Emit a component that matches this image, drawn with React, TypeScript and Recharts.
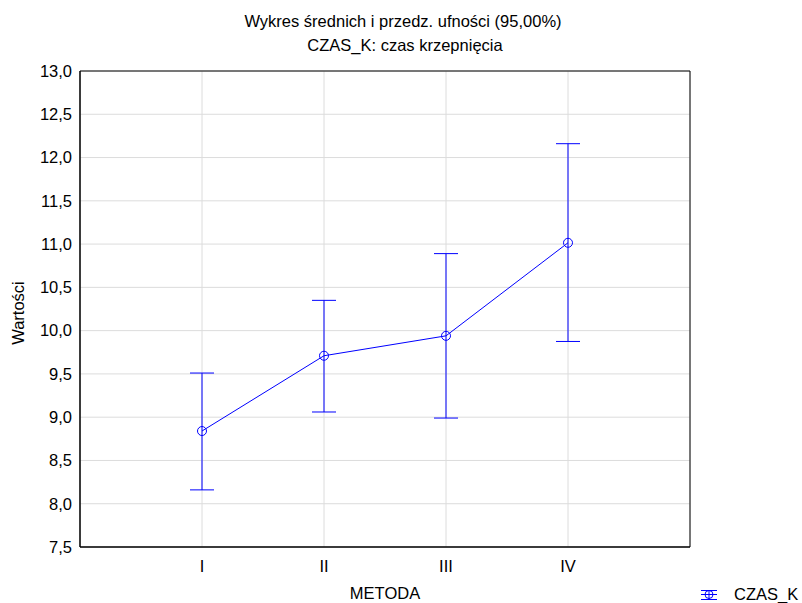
import React from 'react';
import { ComposedChart, Line, XAxis, YAxis, CartesianGrid, ErrorBar, ReferenceArea } from 'recharts';

const categories = ['I', 'II', 'III', 'IV'];
const means = [8.84, 9.71, 9.94, 11.015];
const lowers = [8.16, 9.06, 8.99, 9.875];
const uppers = [9.51, 10.35, 10.89, 12.16];
const yTicks = [7.5, 8.0, 8.5, 9.0, 9.5, 10.0, 10.5, 11.0, 11.5, 12.0, 12.5, 13.0];
const xPositions = [1, 2, 3, 4];

const data = categories.map((c, i) => ({
  x: xPositions[i],
  name: c,
  mean: means[i],
  err: [means[i] - lowers[i], uppers[i] - means[i]],
}));

const FONT = '"Liberation Sans", Arial, sans-serif';
const FS = 16.5;
const BLUE = '#0000ff';

export default function App() {
  return (
    <div style={{ position: 'absolute', left: 0, top: 0, width: 802, height: 603, background: '#fff', fontFamily: FONT }}>
      <div style={{ position: 'absolute', left: 0, width: 802, top: 9, textAlign: 'center', fontSize: FS, lineHeight: '24px', color: '#000' }}>
        <div style={{ paddingLeft: 4 }}>Wykres średnich i przedz. ufności (95,00%)</div>
        <div style={{ paddingLeft: 8 }}>CZAS_K: czas krzepnięcia</div>
      </div>
      <ComposedChart
        width={802}
        height={603}
        data={data}
        margin={{ top: 71, right: 112, left: 0, bottom: 0 }}
      >
        <CartesianGrid stroke="#dcdcdc" strokeWidth={1} />
        <XAxis
          dataKey="x"
          type="number"
          domain={[0, 5]}
          ticks={xPositions}
          tickFormatter={(v: number) => categories[v - 1] ?? ''}
          height={56}
          axisLine={{ stroke: '#000' }}
          tickLine={false}
          tickSize={6}
          tickMargin={7}
          tick={{ fill: '#000', fontSize: FS, fontFamily: FONT }}
        />
        <YAxis
          type="number"
          domain={[7.5, 13]}
          ticks={yTicks}
          allowDataOverflow
          width={80}
          tickFormatter={(v: number) => v.toFixed(1).replace('.', ',')}
          axisLine={{ stroke: '#000' }}
          tickLine={false}
          tickSize={6}
          tickMargin={2}
          tick={{ fill: '#000', fontSize: FS, fontFamily: FONT }}
        />
        <ReferenceArea x1={0} x2={5} y1={7.5} y2={13} fill="none" stroke="#000" strokeWidth={1} strokeOpacity={1} />
        <Line
          dataKey="mean"
          stroke={BLUE}
          strokeWidth={1}
          isAnimationActive={false}
          dot={{ r: 4.5, stroke: BLUE, fill: 'none', strokeWidth: 1 }}
          activeDot={false}
        >
          <ErrorBar dataKey="err" direction="y" width={12} stroke={BLUE} strokeWidth={1} isAnimationActive={false} />
        </Line>
      </ComposedChart>
      <div style={{ position: 'absolute', left: 0, top: 313, width: 0, height: 0 }}>
        <div style={{ position: 'absolute', left: 18, top: 0, transform: 'translate(-50%, -50%) rotate(-90deg)', fontSize: FS, lineHeight: '18px', whiteSpace: 'nowrap', color: '#000' }}>Wartości</div>
      </div>
      <div style={{ position: 'absolute', left: 385, top: 593, transform: 'translate(-50%, -50%)', fontSize: FS, lineHeight: '18px', whiteSpace: 'nowrap', color: '#000' }}>METODA</div>
      <div style={{ position: 'absolute', left: 701, top: 585, display: 'flex', alignItems: 'center', fontSize: FS, lineHeight: '18px', color: '#000' }}>
        <svg width={18} height={17} style={{ display: 'block' }}>
          <line x1={0} x2={16} y1={4.5} y2={4.5} stroke={BLUE} strokeWidth={1} />
          <line x1={0} x2={16} y1={8.5} y2={8.5} stroke={BLUE} strokeWidth={1} />
          <line x1={0} x2={16} y1={13.5} y2={13.5} stroke={BLUE} strokeWidth={1} />
          <line x1={8} x2={8} y1={4.5} y2={13.5} stroke={BLUE} strokeWidth={1} />
          <circle cx={8} cy={8.5} r={4} stroke={BLUE} fill="none" strokeWidth={1} />
        </svg>
        <span style={{ marginLeft: 15 }}>CZAS_K</span>
      </div>
    </div>
  );
}
